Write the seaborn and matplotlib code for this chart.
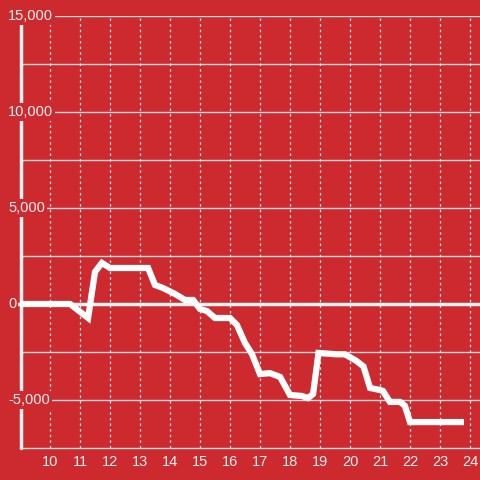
import matplotlib
matplotlib.use("Agg")
import matplotlib.pyplot as plt
import seaborn as sns
import pandas as pd

hours = [9.0, 10.67, 11.27, 11.5, 11.73, 12.0, 13.27, 13.5, 13.77, 14.17, 14.5, 14.77,
         15.0, 15.23, 15.5, 16.0, 16.23, 16.5, 16.73, 17.0, 17.33, 17.67, 18.0, 18.4,
         18.6, 18.77, 18.95, 19.55, 19.83, 20.2, 20.45, 20.67, 21.0, 21.1, 21.33, 21.67,
         21.83, 22.0, 23.8]
values = [0, 0, -730, 1670, 2140, 1875, 1875, 990, 830, 520, 210, 210,
          -260, -365, -730, -730, -1090, -2030, -2600, -3650, -3600, -3800, -4740, -4790,
          -4900, -4690, -2550, -2620, -2620, -2950, -3250, -4375, -4480, -4530, -5100, -5100,
          -5300, -6150, -6150]
x_ticks = list(range(10, 25))
y_ticks = [-5000, 0, 5000, 10000, 15000]
y_grid = [-5000, -2500, 0, 2500, 5000, 7500, 10000, 12500, 15000]

df = pd.DataFrame({"hour": hours, "value": values})

bg = "#CC2A2F"
sns.set_theme(style="white")
plt.rcParams['font.family'] = ['Liberation Sans', 'DejaVu Sans']

fig = plt.figure(figsize=(4.8, 4.8), dpi=100, facecolor=bg)
ax = fig.add_axes([20/480, 32/480, 460/480, 432/480])
ax.set_facecolor(bg)

ax.set_xlim(9, 24 + 10/30)
ax.set_ylim(-7500, 15000)

for v in y_grid:
    ax.axhline(v, color="#d9d9d9", lw=1.0, zorder=1)
for h in x_ticks:
    ax.axvline(h, color="#e8e8e8", lw=0.9, ls=(0, (2, 2.5)), zorder=1)

sns.lineplot(data=df, x="hour", y="value", ax=ax, color="white", lw=4.5,
             zorder=4, solid_joinstyle="miter", solid_capstyle="butt")

for s in ["top", "right", "left"]:
    ax.spines[s].set_visible(False)
ax.spines["bottom"].set_color("#dddddd")
ax.spines["bottom"].set_linewidth(1.0)

# thick y axis line and zero line
ax.axvline(9.03, color="#f2f2f2", lw=2.5, zorder=3, clip_on=False)
ax.plot([8.9, 24.4], [0, 0], color="#f2f2f2", lw=2.5, zorder=3, clip_on=False)

ax.set_xticks(x_ticks)
ax.set_xticklabels([str(t) for t in x_ticks], color="#f0f0f0", fontsize=10.5)
ax.tick_params(axis="x", length=0, pad=5)
ax.set_yticks([])
ax.set_xlabel("")
ax.set_ylabel("")

for v in y_ticks:
    ax.text(-0.026, v, f"{v:,}", transform=ax.get_yaxis_transform(),
            ha="left", va="center", color="#f0f0f0", fontsize=10.5, zorder=6,
            bbox=dict(facecolor=bg, edgecolor="none", pad=1.5), clip_on=False)

fig.savefig("out.png", dpi=100, facecolor=bg)
